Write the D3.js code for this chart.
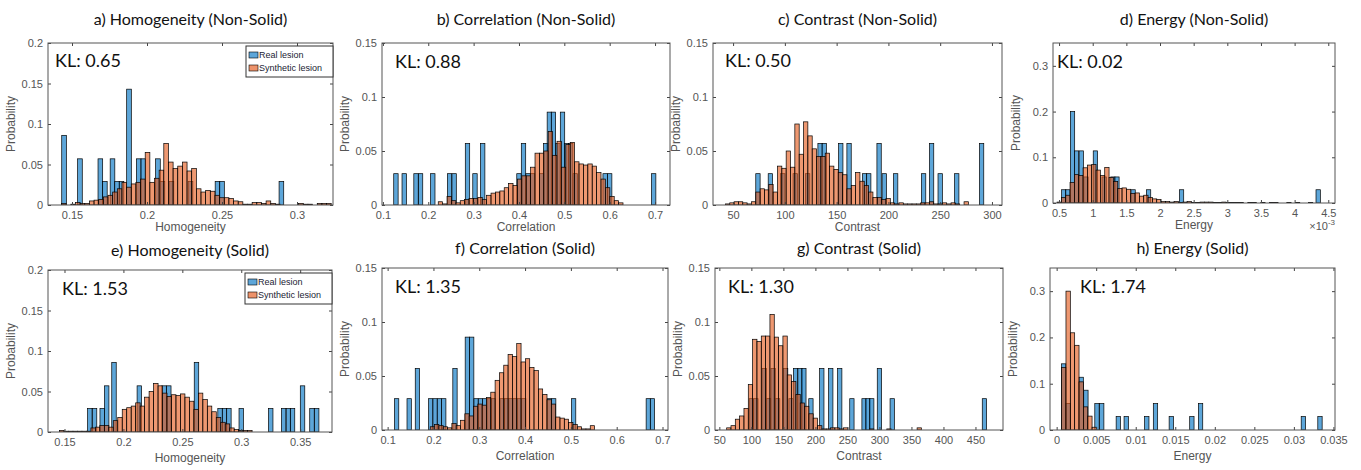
<!DOCTYPE html>
<html>
<head>
<meta charset="utf-8">
<script src="https://cdn.jsdelivr.net/npm/d3@7"></script>
<style>
  body { margin: 0; background: #fff; }
  .tick text { font-family: "Liberation Sans", Arial, sans-serif; font-size: 11px; fill: #555; }
</style>
</head>
<body>
<svg id="chart" width="1361" height="470"></svg>
<script>
// real lesions: [bin centre, probability]; synthetic lesions: probabilities from a start edge with a fixed bin width
var realA = [[0.1447,0.086],[0.1553,0.057],[0.1689,0.057],[0.1719,0.029],[0.177,0.057],[0.18,0.029],[0.183,0.029],[0.188,0.143],[0.1945,0.057],[0.1975,0.057],[0.2073,0.057],[0.2103,0.029],[0.2163,0.029],[0.229,0.029],[0.247,0.029],[0.25,0.029],[0.2896,0.029]];
var synthA = [0.002,0,0.001,0.003,0.002,0.002,0.005,0.006,0.007,0.01,0.012,0.016,0.02,0.028,0.022,0.026,0.028,0.032,0.065,0.028,0.033,0.043,0.076,0.053,0.045,0.048,0.053,0.042,0.045,0.02,0.016,0.018,0.017,0.012,0.009,0.009,0.008,0.005,0.004,0.001,0.001,0.003,0.003,0.002,0.005,0.002,0.001,0,0,0,0,0.002,0.001,0.001,0,0.002,0.002,0.002];

var realB = [[0.1287,0.029],[0.147,0.029],[0.173,0.029],[0.183,0.029],[0.21,0.029],[0.247,0.029],[0.257,0.029],[0.2865,0.057],[0.303,0.029],[0.32,0.057],[0.4,0.029],[0.41,0.057],[0.42,0.029],[0.43,0.029],[0.45,0.029],[0.459,0.057],[0.467,0.086],[0.476,0.086],[0.486,0.057],[0.496,0.086],[0.505,0.057],[0.514,0.057],[0.524,0.029],[0.59,0.029],[0.6,0.029],[0.697,0.029]];
var synthB = [0.003,0.001,0.008,0.004,0.002,0.004,0.005,0.006,0.006,0.007,0.005,0.009,0.011,0.012,0.013,0.016,0.02,0.018,0.024,0.027,0.027,0.035,0.048,0.048,0.05,0.068,0.046,0.059,0.035,0.056,0.058,0.04,0.038,0.037,0.038,0.036,0.03,0.024,0.016,0.008,0.004,0.002];

var realC = [[74,0.029],[86,0.029],[98,0.029],[110,0.029],[122,0.029],[134,0.057],[138,0.057],[154,0.057],[162,0.057],[177,0.029],[181,0.029],[191,0.057],[196,0.029],[207,0.029],[234,0.029],[241.7,0.057],[250,0.029],[266,0.029],[290,0.057]];
var synthC = [0.001,0.002,0.003,0.003,0.002,0.001,0.003,0.012,0.015,0.014,0.019,0.012,0.036,0.034,0.05,0.035,0.075,0.047,0.077,0.064,0.052,0.045,0.045,0.048,0.036,0.033,0.03,0.028,0.015,0.018,0.03,0.022,0.018,0.012,0.007,0.007,0.005,0.006,0.002,0.001,0.002,0.001,0.001,0.001,0.001,0.002,0.002,0.003,0.001,0.001,0.002,0.001,0.002,0.001,0,0.003];

var realD = [[0.00057,0.029],[0.00063,0.029],[0.0007,0.2],[0.00076,0.114],[0.00083,0.114],[0.0009,0.057],[0.00104,0.114],[0.00117,0.057],[0.0013,0.057],[0.00136,0.057],[0.0016,0.029],[0.00183,0.029],[0.00232,0.029],[0.00435,0.029]];
var synthD = [0.002,0.012,0.017,0.045,0.062,0.06,0.077,0.083,0.084,0.072,0.06,0.078,0.056,0.047,0.032,0.033,0.03,0.021,0.022,0.015,0.017,0.012,0.009,0.008,0.003,0.003,0.002,0.003,0.001,0.002,0.003,0.001,0.001,0.002,0.002,0.002,0.001,0.001,0.002,0.001,0.001,0.001,0.001,0,0.001,0.001,0,0.001,0,0.001,0.001,0,0,0.001,0,0.001,0,0,0.001];

var realE = [[0.1715,0.029],[0.1755,0.029],[0.182,0.029],[0.1858,0.057],[0.192,0.086],[0.2135,0.057],[0.2345,0.057],[0.2385,0.057],[0.262,0.086],[0.282,0.029],[0.2858,0.029],[0.2895,0.029],[0.3,0.029],[0.325,0.029],[0.336,0.029],[0.34,0.029],[0.3435,0.029],[0.352,0.057],[0.36,0.029],[0.364,0.029]];
var synthE = [0.002,0.001,0.001,0.001,0.001,0.001,0.001,0.005,0.006,0.008,0.008,0.006,0.014,0.018,0.028,0.03,0.032,0.036,0.032,0.043,0.05,0.06,0.057,0.048,0.044,0.046,0.045,0.047,0.043,0.038,0.028,0.048,0.04,0.032,0.025,0.018,0.012,0.01,0.005,0.003,0.002,0.002,0.002];

var realF = [[0.1196,0.029],[0.147,0.029],[0.165,0.057],[0.194,0.029],[0.2035,0.029],[0.213,0.029],[0.2225,0.029],[0.247,0.057],[0.274,0.086],[0.2835,0.086],[0.293,0.029],[0.3025,0.029],[0.312,0.029],[0.3215,0.029],[0.331,0.029],[0.35,0.029],[0.36,0.029],[0.3685,0.029],[0.378,0.029],[0.3875,0.029],[0.397,0.029],[0.453,0.029],[0.4625,0.029],[0.506,0.029],[0.669,0.029],[0.678,0.029]];
var synthF = [0.003,0.005,0.004,0.003,0.002,0.006,0.004,0.009,0.015,0.013,0.022,0.024,0.023,0.03,0.035,0.046,0.053,0.06,0.07,0.068,0.08,0.063,0.066,0.058,0.055,0.038,0.033,0.028,0.024,0.012,0.011,0.01,0.007,0.005,0.003,0.001,0.001,0.004];

var realG = [[100,0.029],[107,0.029],[120,0.057],[127,0.029],[134,0.057],[141,0.029],[153.5,0.057],[162,0.029],[169,0.057],[176,0.057],[182,0.057],[193,0.029],[210,0.057],[224,0.057],[238,0.057],[257,0.029],[276,0.029],[282,0.029],[288,0.029],[300,0.057],[320,0.029],[464,0.029]];
var synthG = [0.002,0.004,0.01,0.013,0.02,0.042,0.084,0.082,0.087,0.087,0.107,0.086,0.078,0.087,0.051,0.045,0.033,0.025,0.022,0.015,0.011,0.004,0.001,0.001,0.002,0.002,0.001,0.002,0,0,0,0,0,0.001,0,0,0,0.001,0,0,0,0,0,0,0.002];

var realH = [[0.00089,0.143],[0.00145,0.057],[0.0031,0.114],[0.0037,0.086],[0.0051,0.057],[0.0057,0.057],[0.0078,0.029],[0.0088,0.029],[0.0114,0.029],[0.0125,0.057],[0.0145,0.029],[0.0171,0.029],[0.0182,0.057],[0.0312,0.029],[0.0333,0.029]];
var synthH = [0.135,0.3,0.21,0.183,0.104,0.05,0.03,0.006];

var klValues = ["0.65", "0.88", "0.50", "0.02", "1.53", "1.35", "1.30", "1.74"];
var titles = ["a) Homogeneity (Non-Solid)", "b) Correlation (Non-Solid)", "c) Contrast (Non-Solid)", "d) Energy (Non-Solid)",
              "e) Homogeneity (Solid)", "f) Correlation (Solid)", "g) Contrast (Solid)", "h) Energy (Solid)"];
var xLabels = ["Homogeneity", "Correlation", "Contrast", "Energy", "Homogeneity", "Correlation", "Contrast", "Energy"];
var legendLabels = ["Real lesion", "Synthetic lesion"];

var blue = "#0676C4", orange = "#E4581A";

// one entry per panel: box in page pixels, axis domains, ticks, bins
var panels = [
  {box: [48, 43, 333, 205], x: [0.134, 0.324], y: [0, 0.2], xt: [0.15, 0.2, 0.25, 0.3], yt: [0, 0.05, 0.1, 0.15, 0.2],
   real: realA, synth: synthA, start: 0.143, bw: 0.0031, kl: [7, 24], legend: true},
  {box: [382, 43, 670, 205], x: [0.098, 0.733], y: [0, 0.15], xt: [0.1, 0.2, 0.3, 0.4, 0.5, 0.6, 0.7], yt: [0, 0.05, 0.1, 0.15],
   real: realB, synth: synthB, start: 0.222, bw: 0.0097, kl: [13, 25]},
  {box: [713, 43, 1002, 205], x: [30.6, 309.7], y: [0, 0.15], xt: [50, 100, 150, 200, 250, 300], yt: [0, 0.05, 0.1, 0.15],
   real: realC, synth: synthC, start: 42.6, bw: 4.19, kl: [12, 24]},
  {box: [1053, 43, 1335, 203], x: [0.00041, 0.0046], y: [0, 0.35], xt: [0.0005, 0.001, 0.0015, 0.002, 0.0025, 0.003, 0.0035, 0.004, 0.0045], yt: [0, 0.1, 0.2, 0.3],
   real: realD, synth: synthD, start: 0.00047, bw: 0.0000644, kl: [4, 25], exp: true},
  {box: [48, 270, 332, 432], x: [0.136, 0.377], y: [0, 0.2], xt: [0.15, 0.2, 0.25, 0.3, 0.35], yt: [0, 0.05, 0.1, 0.15, 0.2],
   real: realE, synth: synthE, start: 0.1458, bw: 0.0038, kl: [14, 25], legend: true},
  {box: [382, 268, 668, 430], x: [0.0877, 0.712], y: [0, 0.15], xt: [0.1, 0.2, 0.3, 0.4, 0.5, 0.6, 0.7], yt: [0, 0.05, 0.1, 0.15],
   real: realF, synth: synthF, start: 0.193, bw: 0.00944, kl: [13, 25]},
  {box: [715, 268, 1003, 430], x: [43.2, 493], y: [0, 0.15], xt: [50, 100, 150, 200, 250, 300, 350, 400, 450], yt: [0, 0.05, 0.1, 0.15],
   real: realG, synth: synthG, start: 61.4, bw: 6.76, kl: [13, 25]},
  {box: [1050, 268, 1335, 430], x: [-0.00084, 0.0352], y: [0, 0.35], xt: [0, 0.005, 0.01, 0.015, 0.02, 0.025, 0.03, 0.035], yt: [0, 0.1, 0.2, 0.3],
   real: realH, synth: synthH, start: 0.00063, bw: 0.00055, kl: [30, 25]}
];

var svg = d3.select("#chart");

function fmt(v) { return String(+v.toFixed(6)); }

panels.forEach(function (p, k) {
    var x0 = p.box[0], y0 = p.box[1], w = p.box[2] - p.box[0], h = p.box[3] - p.box[1];
    var topRow = k < 4;
    var g = svg.append("g").attr("transform", "translate(" + x0 + "," + y0 + ")");
    var x = d3.scaleLinear().domain(p.x).range([0, w]);
    var y = d3.scaleLinear().domain(p.y).range([h, 0]);

    g.append("clipPath").attr("id", "clip" + k).append("rect").attr("width", w).attr("height", h);
    var plot = g.append("g").attr("clip-path", "url(#clip" + k + ")");

    // real lesion bars first, synthetic drawn over them
    plot.selectAll("rect.real").data(p.real).enter().append("rect")
        .attr("class", "real")
        .attr("x", function (d) { return x(d[0] - p.bw / 2); })
        .attr("width", function (d) { return x(d[0] + p.bw / 2) - x(d[0] - p.bw / 2); })
        .attr("y", function (d) { return y(d[1]); })
        .attr("height", function (d) { return y(0) - y(d[1]); })
        .attr("fill", blue).attr("fill-opacity", 0.65)
        .attr("stroke", "#000").attr("stroke-width", 0.7);

    plot.selectAll("rect.synth").data(p.synth).enter().append("rect")
        .attr("class", "synth")
        .attr("x", function (d, i) { return x(p.start + i * p.bw); })
        .attr("width", function (d, i) { return x(p.start + (i + 1) * p.bw) - x(p.start + i * p.bw); })
        .attr("y", function (d) { return y(d); })
        .attr("height", function (d) { return y(0) - y(d); })
        .attr("fill", orange).attr("fill-opacity", 0.62)
        .attr("stroke", "#000").attr("stroke-width", 0.7);

    var xf = p.exp ? function (d) { return fmt(d * 1000); } : fmt;

    g.append("g").attr("transform", "translate(0," + h + ")")
        .call(d3.axisBottom(x).tickValues(p.xt).tickFormat(xf).tickSizeInner(-3).tickSizeOuter(0).tickPadding(6));
    g.append("g")
        .call(d3.axisLeft(y).tickValues(p.yt).tickFormat(fmt).tickSizeInner(-3).tickSizeOuter(0).tickPadding(5));
    g.append("g")
        .call(d3.axisTop(x).tickValues(p.xt).tickFormat("").tickSizeInner(-3).tickSizeOuter(0));
    g.append("g").attr("transform", "translate(" + w + ",0)")
        .call(d3.axisRight(y).tickValues(p.yt).tickFormat("").tickSizeInner(-3).tickSizeOuter(0));
    g.selectAll(".domain").remove();
    g.selectAll(".tick line").attr("stroke", "#444");

    g.append("rect").attr("width", w).attr("height", h)
        .attr("fill", "none").attr("stroke", "#555").attr("stroke-width", 1);

    // titles and labels
    g.append("text").attr("x", w / 2).attr("y", topRow ? -18 : -14).attr("text-anchor", "middle")
        .style("font-family", "Lato, 'Open Sans', sans-serif").style("font-size", "16px").attr("fill", "#111")
        .text(titles[k]);
    g.append("text").attr("x", p.kl[0]).attr("y", p.kl[1])
        .style("font-family", "Lato, 'Open Sans', sans-serif").style("font-size", "18px").attr("fill", "#111")
        .text("KL: " + klValues[k]);
    g.append("text").attr("x", w / 2).attr("y", h + (topRow ? 26 : 30)).attr("text-anchor", "middle")
        .style("font-family", "'Liberation Sans', Arial, sans-serif").style("font-size", "12px").attr("fill", "#555")
        .text(xLabels[k]);
    g.append("text").attr("transform", "translate(" + (-33) + "," + (h / 2) + ") rotate(-90)").attr("text-anchor", "middle")
        .style("font-family", "'Liberation Sans', Arial, sans-serif").style("font-size", "12px").attr("fill", "#555")
        .text("Probability");
    if (p.exp) {
        var ex = g.append("text").attr("x", w).attr("y", h + 27).attr("text-anchor", "end")
            .style("font-family", "'Liberation Sans', Arial, sans-serif").style("font-size", "11px").attr("fill", "#555");
        ex.append("tspan").text("\u00d710");
        ex.append("tspan").attr("dy", -5).style("font-size", "8px").text("-3");
    }

    if (p.legend) {
        var lg = g.append("g").attr("transform", "translate(" + (w - 87) + ",3)");
        lg.append("rect").attr("width", 87).attr("height", 31)
            .attr("fill", "#fff").attr("stroke", "#333").attr("stroke-width", 1);
        [blue, orange].forEach(function (c, j) {
            lg.append("rect").attr("x", 3).attr("y", 6 + j * 13).attr("width", 9).attr("height", 6)
                .attr("fill", c).attr("fill-opacity", 0.65).attr("stroke", "#000").attr("stroke-width", 0.6);
            lg.append("text").attr("x", 13).attr("y", 12 + j * 13)
                .style("font-family", "'Liberation Sans', Arial, sans-serif").style("font-size", "9px").attr("fill", "#223")
                .text(legendLabels[j]);
        });
    }
});
</script>
</body>
</html>
